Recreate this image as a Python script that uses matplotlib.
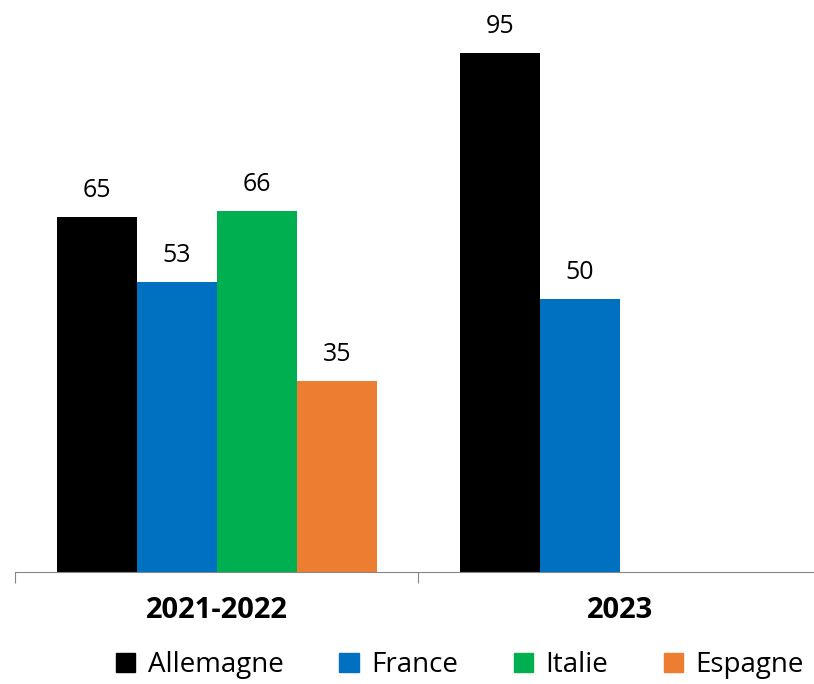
import numpy as np
from matplotlib import pyplot as plt
from matplotlib.patches import Patch

plt.rcParams['font.family'] = ['Open Sans', 'DejaVu Sans']

categories = ['2021-2022', '2023']
series = ['Allemagne', 'France', 'Italie', 'Espagne']
values = {
    'Allemagne': [65, 95],
    'France': [53, 50],
    'Italie': [66, None],
    'Espagne': [35, None],
}
colors = ['#000000', '#0070C0', '#00B050', '#ED7D31']

fig = plt.figure(figsize=(8.14, 6.84), dpi=100)
ax = fig.add_axes([15 / 814, 112 / 684, 800 / 814, 572 / 684])

w = 0.1985
x = np.arange(len(categories))
for i, (name, col) in enumerate(zip(series, colors)):
    off = (i - 1.5) * w
    for j, v in enumerate(values[name]):
        if v is None:
            continue
        ax.bar(x[j] + off, v, w, color=col)
        ax.text(x[j] + off, v + 2.6, str(v), ha='center', va='bottom',
                fontsize=18, color='black')

ax.set_xlim(-0.501, 1.484)
ax.set_ylim(0, 104.7)
for s in ['top', 'right', 'left']:
    ax.spines[s].set_visible(False)
ax.spines['bottom'].set_color('#868686')
ax.set_yticks([])
ax.set_xticks([-0.501, 0.5, 1.484])
ax.set_xticklabels([])
ax.tick_params(axis='x', length=8, color='#868686')
ax.set_xticks(x, minor=True)
ax.set_xticklabels(categories, minor=True, fontsize=21, fontweight='bold')
ax.tick_params(axis='x', which='minor', length=0, pad=17)

handles = [Patch(color=c, label=s) for s, c in zip(series, colors)]
fig.legend(handles=handles, loc='center', bbox_to_anchor=(460 / 814, 19 / 684),
           ncol=4, frameon=False, fontsize=20, handlelength=0.7,
           handleheight=0.7, handletextpad=0.45, columnspacing=2.0)

fig.savefig('out.png', dpi=100)
